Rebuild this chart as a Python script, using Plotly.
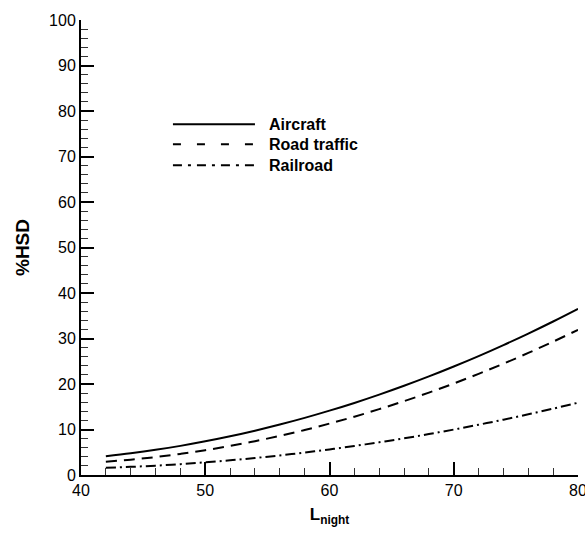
import plotly.graph_objects as go

# Data
l_night = [42, 44, 46, 48, 50, 52, 54, 56, 58, 60, 62, 64, 66, 68, 70, 72, 74, 76, 78, 80]
aircraft = [4.13, 4.78, 5.53, 6.40, 7.40, 8.51, 9.74, 11.09, 12.55, 14.14,
            15.84, 17.67, 19.61, 21.67, 23.85, 26.14, 28.56, 31.09, 33.74, 36.52]
road_traffic = [2.91, 3.37, 3.94, 4.64, 5.45, 6.38, 7.43, 8.60, 9.89, 11.30,
                12.82, 14.47, 16.23, 18.11, 20.11, 22.23, 24.47, 26.83, 29.31, 31.90]
railroad = [1.59, 1.79, 2.06, 2.39, 2.78, 3.22, 3.73, 4.30, 4.93, 5.62,
            6.38, 7.19, 8.06, 9.00, 9.99, 11.05, 12.16, 13.34, 14.58, 15.88]

series_names = ["Aircraft", "Road traffic", "Railroad"]
series_values = [aircraft, road_traffic, railroad]
curve_dash = ["solid", "11px,7px", "10px,4px,2px,4px"]
legend_dash = ["solid", "8px,16px", "9px,6px,3px,6px"]

x_ticks = [40, 50, 60, 70, 80]
y_ticks = [0, 10, 20, 30, 40, 50, 60, 70, 80, 90, 100]

FONT = "Liberation Sans, Arial, Helvetica, sans-serif"

fig = go.Figure()
for name, vals, dash in zip(series_names, series_values, curve_dash):
    fig.add_trace(go.Scatter(x=l_night, y=vals, mode="lines", name=name,
                             line=dict(color="black", width=2, dash=dash, shape="spline"),
                             showlegend=False))

# manual legend (long line samples like the reference)
legend_y = [0.771, 0.727, 0.681]
for name, dash, yy in zip(series_names, legend_dash, legend_y):
    fig.add_shape(type="line", xref="paper", yref="paper", x0=0.185, x1=0.350, y0=yy, y1=yy,
                  line=dict(color="black", width=2, dash=dash))
    fig.add_annotation(xref="paper", yref="paper", x=0.374, y=yy, text="<b>%s</b>" % name,
                       showarrow=False, xanchor="left", yanchor="middle",
                       font=dict(family=FONT, size=16, color="black"))

axis_common = dict(showgrid=False, zeroline=False, showline=True, linecolor="black", linewidth=2,
                   ticks="inside", ticklen=13, tickwidth=2, tickcolor="black",
                   tickfont=dict(family=FONT, size=16, color="black"), mirror=False,
                   ticklabeloverflow="allow")

fig.update_xaxes(range=[40, 80], tickvals=x_ticks, ticktext=[str(v) for v in x_ticks],
                 minor=dict(ticks="inside", ticklen=7, tickwidth=1, tickcolor="#333", dtick=2, tick0=40),
                 title=dict(text="<b>L<sub>night</sub></b>", font=dict(family=FONT, size=17, color="black"),
                            standoff=10),
                 **axis_common)
fig.update_yaxes(range=[0, 100], tickvals=y_ticks, ticktext=[str(v) for v in y_ticks],
                 minor=dict(ticks="inside", ticklen=7, tickwidth=1, tickcolor="#333", dtick=2, tick0=0),
                 title=dict(text="<b>%HSD</b>", font=dict(family=FONT, size=19, color="black"),
                            standoff=14),
                 **axis_common)

fig.update_layout(width=585, height=535, margin=dict(l=81, r=7, t=20, b=60, autoexpand=False),
                  plot_bgcolor="white", paper_bgcolor="white", showlegend=False,
                  font=dict(family=FONT, color="black"))

fig.write_html("out.html")
